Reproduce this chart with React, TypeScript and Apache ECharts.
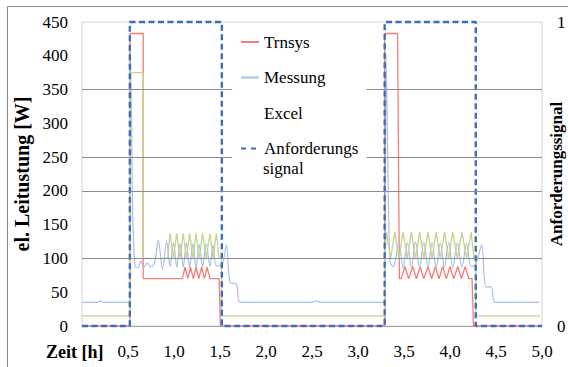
import React, { useEffect, useRef } from 'react';
import * as echarts from 'echarts';

const FONT = 'Liberation Serif';

const seriesNames = ['Trnsys', 'Messung', 'Excel', 'Anforderungssignal'];
const xTickLabels = ['0,5', '1,0', '1,5', '2,0', '2,5', '3,0', '3,5', '4,0', '4,5', '5,0'];
const gridLineValues = [350, 250, 200, 100];

// [Zeit h, Leistung W]
const trnsys: [number, number][] = [
  [0, 0], [0.52, 0], [0.52, 433], [0.665, 433], [0.665, 70], [1.09, 70],
  [1.12, 87], [1.15, 70], [1.18, 87], [1.21, 70], [1.24, 87], [1.27, 70],
  [1.3, 87], [1.33, 70], [1.36, 87], [1.39, 70], [1.49, 70], [1.505, 0],
  [3.29, 0], [3.29, 433], [3.43, 433], [3.45, 70], [3.47, 70],
  [3.51, 88], [3.55, 70], [3.595, 88], [3.635, 70], [3.675, 88], [3.715, 70],
  [3.76, 88], [3.8, 70], [3.84, 88], [3.88, 70], [3.92, 88], [3.96, 70],
  [4.0, 88], [4.04, 70], [4.085, 88], [4.125, 70], [4.165, 88], [4.205, 70],
  [4.24, 70], [4.255, 0], [5, 0],
];

const messung: [number, number][] = [
  [0, 35], [0.17, 35], [0.2, 37], [0.24, 35], [0.51, 35], [0.525, 413],
  [0.54, 290], [0.55, 170], [0.565, 110], [0.58, 88], [0.61, 86], [0.64, 96],
  [0.67, 87], [0.71, 93], [0.75, 87], [0.79, 94], [0.83, 127], [0.875, 84],
  [0.92, 125], [0.957, 88], [0.995, 123], [1.03, 87], [1.065, 122], [1.1, 87],
  [1.135, 123], [1.17, 86], [1.205, 122], [1.24, 86], [1.275, 121], [1.31, 87],
  [1.35, 122], [1.39, 88], [1.425, 120], [1.46, 89], [1.52, 90], [1.57, 120],
  [1.61, 64], [1.68, 62], [1.72, 35], [2.5, 35], [2.55, 37], [2.6, 35],
  [3.28, 35], [3.305, 401], [3.32, 280], [3.335, 150], [3.35, 95], [3.38, 88],
  [3.4, 92], [3.445, 124], [3.49, 86], [3.535, 124], [3.58, 87], [3.625, 125],
  [3.67, 86], [3.715, 124], [3.76, 87], [3.805, 124], [3.85, 86], [3.895, 123],
  [3.94, 87], [3.985, 124], [4.03, 86], [4.08, 123], [4.13, 87], [4.18, 122],
  [4.23, 88], [4.27, 90], [4.3, 100], [4.345, 120], [4.39, 58], [4.45, 58],
  [4.49, 35], [4.97, 35],
];

const excel: [number, number][] = [
  [0, 15], [0.52, 15], [0.52, 375], [0.665, 375], [0.665, 100], [0.93, 100],
  [0.957, 137], [0.993, 100], [1.03, 137], [1.065, 100], [1.1, 137], [1.135, 100],
  [1.17, 137], [1.205, 100], [1.24, 137], [1.275, 100], [1.31, 137], [1.35, 100],
  [1.39, 137], [1.425, 100], [1.46, 137], [1.49, 100], [1.515, 100], [1.52, 15],
  [3.29, 15], [3.29, 100], [3.31, 139], [3.355, 100], [3.4, 139], [3.445, 100],
  [3.49, 139], [3.535, 100], [3.58, 139], [3.625, 100], [3.67, 139], [3.715, 100],
  [3.76, 139], [3.805, 100], [3.85, 139], [3.895, 100], [3.94, 139], [3.985, 100],
  [4.03, 139], [4.08, 100], [4.13, 139], [4.18, 100], [4.23, 139], [4.26, 100],
  [4.28, 100], [4.28, 15], [4.98, 15],
];

// [Zeit h, Signal 0/1]
const signal: [number, number][] = [
  [0, 0], [0.52, 0], [0.52, 1], [1.52, 1], [1.52, 0],
  [3.29, 0], [3.29, 1], [4.28, 1], [4.28, 0], [5, 0],
];

export default function App() {
  const ref = useRef<HTMLDivElement>(null);

  useEffect(() => {
    const chart = echarts.init(ref.current as HTMLDivElement, null, { renderer: 'svg' });
    const lineBase = { type: 'line', showSymbol: false, symbol: 'none', smooth: false };
    chart.setOption({
      animation: false,
      backgroundColor: '#ffffff',
      textStyle: { fontFamily: FONT },
      grid: {
        left: 82, right: 26, top: 22, bottom: 41,
        containLabel: false, outerBoundsMode: 'none',
        show: true, borderColor: '#d6d6d6', borderWidth: 1,
      },
      xAxis: {
        type: 'value', min: 0, max: 5, interval: 0.5,
        axisLine: { show: true, lineStyle: { color: '#a6a6a6', width: 1 } },
        axisTick: { show: false },
        splitLine: { show: false },
        axisLabel: {
          margin: 17, fontSize: 17, fontFamily: FONT, color: '#000',
          formatter: (v: number) => {
            const i = Math.round(v / 0.5) - 1;
            return i >= 0 && i < xTickLabels.length ? xTickLabels[i] : '';
          },
        },
      },
      yAxis: [
        {
          type: 'value', min: 0, max: 450, interval: 50,
          name: 'el. Leitustung [W]', nameLocation: 'middle', nameGap: 50, nameMoveOverlap: false,
          nameTextStyle: { fontFamily: FONT, fontSize: 20, fontWeight: 'bold', color: '#000' },
          axisLine: { show: false }, axisTick: { show: false }, splitLine: { show: false },
          axisLabel: { margin: 14, fontSize: 17, fontFamily: FONT, color: '#000' },
        },
        {
          type: 'value', min: 0, max: 1, interval: 1, position: 'right',
          name: 'Anforderungssignal', nameLocation: 'middle', nameGap: 6, nameMoveOverlap: false,
          nameTextStyle: { fontFamily: FONT, fontSize: 17, fontWeight: 'bold', color: '#000' },
          axisLine: { show: false }, axisTick: { show: false }, splitLine: { show: false },
          axisLabel: { margin: 15, fontSize: 17, fontFamily: FONT, color: '#000' },
        },
      ],
      legend: {
        orient: 'vertical', left: 232, top: 25,
        padding: [8, 8, 26, 8], backgroundColor: '#ffffff',
        itemWidth: 18, itemHeight: 14, itemGap: 17.5, z: 10,
        selectedMode: false,
        itemStyle: { opacity: 0 },
        textStyle: { fontFamily: FONT, fontSize: 17, color: '#000', lineHeight: 18 },
        formatter: (name: string) => (name === 'Anforderungssignal' ? 'Anforderungs' : name),
        data: seriesNames.map((n) => {
          if (n === 'Excel') return { name: n, lineStyle: { opacity: 0 } };
          if (n === 'Anforderungssignal') return { name: n, lineStyle: { type: [5, 5] } };
          return { name: n };
        }),
      },
      graphic: [
        {
          type: 'rect', silent: true, z: -1,
          shape: { x: 7.5, y: 6.5, width: 620, height: 420 },
          style: { fill: 'none', stroke: '#8a8a8a', lineWidth: 1 },
        },
        {
          type: 'text', x: 46, y: 352, z: 20,
          style: { text: 'Zeit [h]', fontFamily: FONT, fontSize: 18, fontWeight: 'bold', fill: '#000', verticalAlign: 'middle' },
        },
        {
          type: 'text', x: 263, y: 168, z: 20,
          style: { text: 'signal', fontFamily: FONT, fontSize: 17, fill: '#000', verticalAlign: 'middle' },
        },
      ],
      series: [
        {
          ...lineBase, name: 'Trnsys', yAxisIndex: 0, data: trnsys,
          lineStyle: { color: '#F27E7A', width: 1.3 }, itemStyle: { color: '#F27E7A' },
          markLine: {
            silent: true, symbol: ['none', 'none'], label: { show: false },
            lineStyle: { color: '#8c8c8c', width: 1, type: 'solid' },
            emphasis: { disabled: true },
            data: gridLineValues.map((v) => ({ yAxis: v })),
          },
        },
        {
          ...lineBase, name: 'Messung', yAxisIndex: 0, data: messung, smooth: 0.3,
          lineStyle: { color: '#A9BFE6', width: 1.2 }, itemStyle: { color: '#A9BFE6' },
        },
        {
          ...lineBase, name: 'Excel', yAxisIndex: 0, data: excel,
          lineStyle: { color: '#C3D48F', width: 1.3 }, itemStyle: { color: '#C3D48F' },
        },
        {
          ...lineBase, name: 'Anforderungssignal', yAxisIndex: 1, data: signal, clip: false,
          lineStyle: { color: '#3F6EB4', width: 2.4, type: [6, 3.5] }, itemStyle: { color: '#3F6EB4' },
        },
      ],
    });
    return () => chart.dispose();
  }, []);

  return (
    <div
      ref={ref}
      style={{ position: 'absolute', left: 0, top: 0, width: 568, height: 367, background: '#fff' }}
    />
  );
}
